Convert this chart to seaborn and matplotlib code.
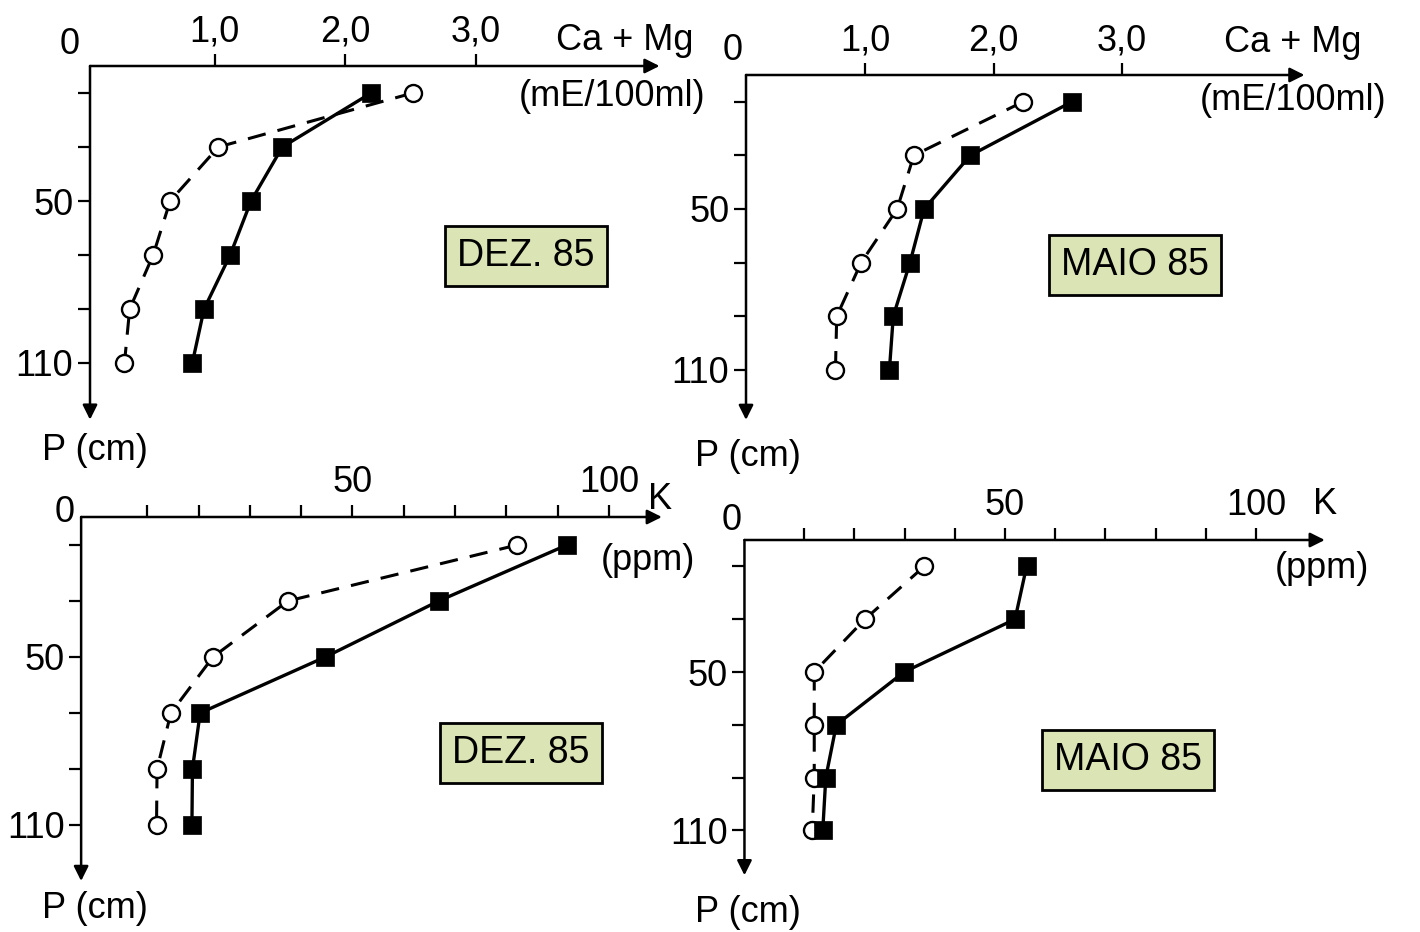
import matplotlib
matplotlib.use("Agg")
import matplotlib.pyplot as plt
import seaborn as sns
import pandas as pd

# ---------------- data ----------------
depth = [10, 30, 50, 70, 90, 110]
camg_dez_solid = [2.20, 1.52, 1.28, 1.12, 0.92, 0.83]
camg_dez_open = [2.52, 1.03, 0.66, 0.53, 0.35, 0.31]
camg_maio_solid = [2.61, 1.82, 1.46, 1.35, 1.22, 1.19]
camg_maio_open = [2.23, 1.38, 1.25, 0.97, 0.78, 0.77]
k_dez_solid = [91.8, 66.8, 44.7, 20.3, 18.8, 18.7]
k_dez_open = [82.1, 37.4, 22.8, 14.6, 11.9, 11.8]
k_maio_solid = [54.3, 52.0, 29.9, 16.4, 14.3, 13.7]
k_maio_open = [33.9, 22.1, 12.0, 12.0, 12.0, 11.6]

camg_ticks = [1, 2, 3]
camg_ticklabels = ["1,0", "2,0", "3,0"]
k_ticks = [10, 20, 30, 40, 50, 60, 70, 80, 90, 100]
k_ticklabels = ["", "", "", "", "50", "", "", "", "", "100"]
depth_ticks = [10, 30, 50, 70, 90, 110]
depth_ticklabels = ["", "", "50", "", "", "110"]

# ---------------- style ----------------
sns.set_style("white")
plt.rcParams["font.family"] = ["Liberation Sans", "DejaVu Sans"]
plt.rcParams["text.color"] = "black"
plt.rcParams["xtick.color"] = "black"
plt.rcParams["ytick.color"] = "black"
plt.rcParams["xtick.labelcolor"] = "black"
plt.rcParams["ytick.labelcolor"] = "black"

W, H = 1420, 932
fig = plt.figure(figsize=(W / 100, H / 100), dpi=100)

FS = 26
BOXFS = 27
BOXCOLOR = "#dbe4b4"


def ftext(px, py, s, size=FS, **kw):
    fig.text(px / W, 1 - py / H, s, fontsize=size, ha=kw.pop("ha", "center"),
             va=kw.pop("va", "center"), color="black", **kw)


def panel(x0, ppu, y0, ppc, axis_x, hend, vend, xticks, xticklabels,
          solid, opened):
    xmin, xmax = axis_x - 0.2 * hend, hend * 1.1
    ytop, ybot = -15, vend + 10
    left = x0 + xmin * ppu
    right = x0 + xmax * ppu
    top = y0 + ytop * ppc
    bottom = y0 + ybot * ppc
    ax = fig.add_axes([left / W, 1 - bottom / H, (right - left) / W,
                       (bottom - top) / H])
    ax.set_facecolor("none")
    ax.set_xlim(xmin, xmax)
    ax.set_ylim(ybot, ytop)
    for s in ax.spines.values():
        s.set_visible(False)
    ax.spines["top"].set_position(("data", 0))
    ax.spines["left"].set_position(("data", axis_x))
    ax.xaxis.tick_top()
    ax.yaxis.tick_left()
    ax.set_xticks(xticks)
    ax.set_xticklabels(xticklabels)
    ax.set_yticks(depth_ticks)
    ax.set_yticklabels(depth_ticklabels)
    ax.tick_params(axis="both", direction="out", length=9, width=1.6,
                   color="black", labelcolor="black", labelsize=FS, pad=3)
    # axis arrows
    ap = dict(arrowstyle="-|>", lw=1.8, color="black", mutation_scale=22,
              shrinkA=0, shrinkB=0)
    ax.annotate("", xy=(hend, 0), xytext=(axis_x, 0), arrowprops=ap,
                annotation_clip=False)
    ax.annotate("", xy=(axis_x, vend), xytext=(axis_x, 0), arrowprops=ap,
                annotation_clip=False)

    d_s = pd.DataFrame({"v": solid, "p": depth})
    d_o = pd.DataFrame({"v": opened, "p": depth})
    sns.lineplot(data=d_o, x="v", y="p", sort=False, estimator=None, ax=ax,
                 color="black", lw=2.2, legend=False,
                 linestyle=(0, (6, 4)))
    sns.lineplot(data=d_s, x="v", y="p", sort=False, estimator=None, ax=ax,
                 color="black", lw=2.4, legend=False)
    sns.scatterplot(data=d_o, x="v", y="p", ax=ax, marker="o", s=150,
                    facecolor="white", edgecolor="black", linewidth=1.7,
                    zorder=5, legend=False)
    sns.scatterplot(data=d_s, x="v", y="p", ax=ax, marker="s", s=165,
                    color="black", edgecolor="black", linewidth=0.5,
                    zorder=6, legend=False)
    ax.set_xlabel("")
    ax.set_ylabel("")
    return ax


# top-left: Ca+Mg, DEZ 85
panel(84, 130.5, 66, 2.7, 0.046, 4.41, 131, camg_ticks, camg_ticklabels,
      camg_dez_solid, camg_dez_open)
ftext(70, 45, "0")
ftext(625, 40, "Ca + Mg")
ftext(612, 97, "(mE/100ml)")
ftext(95, 450, "P (cm)")
ftext(526, 256, "DEZ. 85", size=BOXFS,
      bbox=dict(boxstyle="square,pad=0.32", fc=BOXCOLOR, ec="black", lw=2))

# top-right: Ca+Mg, MAIO 85
panel(736.5, 128.5, 75, 2.68, 0.074, 4.42, 128.7, camg_ticks,
      camg_ticklabels, camg_maio_solid, camg_maio_open)
ftext(733, 50, "0")
ftext(1293, 42, "Ca + Mg")
ftext(1293, 100, "(mE/100ml)")
ftext(748, 457, "P (cm)")
ftext(1135, 265, "MAIO 85", size=BOXFS,
      bbox=dict(boxstyle="square,pad=0.32", fc=BOXCOLOR, ec="black", lw=2))

# bottom-left: K, DEZ 85
panel(96, 5.13, 517, 2.8, -2.9, 110.3, 130, k_ticks, k_ticklabels,
      k_dez_solid, k_dez_open)
ftext(65, 513, "0")
ftext(660, 500, "K")
ftext(648, 560, "(ppm)")
ftext(95, 908, "P (cm)")
ftext(521, 753, "DEZ. 85", size=BOXFS,
      bbox=dict(boxstyle="square,pad=0.32", fc=BOXCOLOR, ec="black", lw=2))

# bottom-right: K, MAIO 85
panel(754, 5.02, 540, 2.64, -1.9, 113.7, 127, k_ticks, k_ticklabels,
      k_maio_solid, k_maio_open)
ftext(732, 520, "0")
ftext(1325, 505, "K")
ftext(1322, 568, "(ppm)")
ftext(748, 913, "P (cm)")
ftext(1128, 760, "MAIO 85", size=BOXFS,
      bbox=dict(boxstyle="square,pad=0.32", fc=BOXCOLOR, ec="black", lw=2))

fig.savefig("out.png", dpi=100, facecolor="white")
